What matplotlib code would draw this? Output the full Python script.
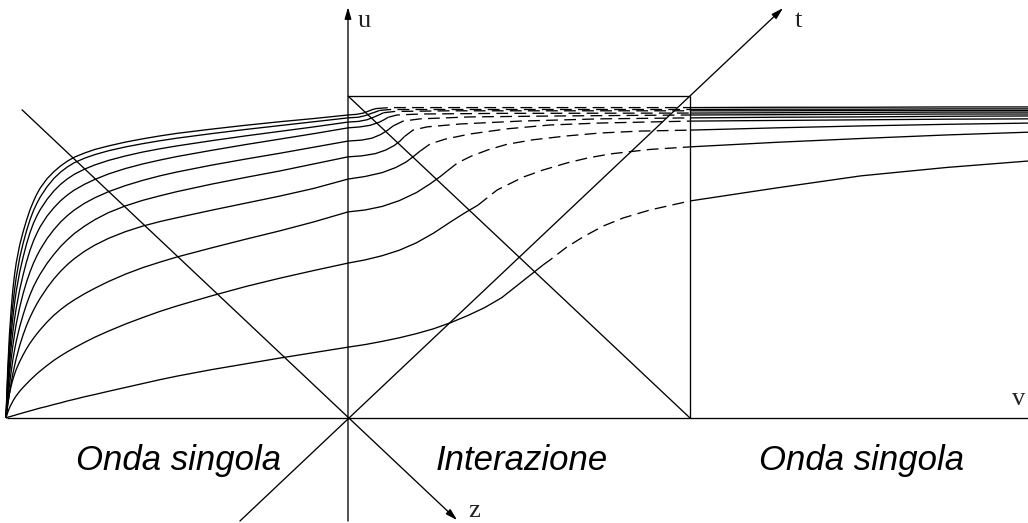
import matplotlib
matplotlib.use("Agg")
import matplotlib.pyplot as plt

plt.rcParams['lines.scale_dashes'] = False

# ---------------------------------------------------------------
# profiles u(v): left single wave, interaction zone, right wave
# ---------------------------------------------------------------
v_left = [-1.0, -0.995, -0.99, -0.985, -0.98, -0.975, -0.97, -0.96, -0.95, -0.94,
          -0.93, -0.92, -0.91, -0.9, -0.88, -0.86, -0.84, -0.82, -0.8, -0.77,
          -0.74, -0.7, -0.65, -0.6, -0.55, -0.5, -0.4, -0.3, -0.2, -0.1, 0.0]
u_left = [
    [0, .150, .258, .335, .398, .445, .482, .537, .578, .614, .646, .672, .695, .714, .743, .765,
     .783, .798, .810, .823, .834, .845, .857, .867, .876, .884, .897, .909, .920, .930, .941],
    [0, .130, .227, .295, .351, .398, .437, .497, .542, .581, .615, .643, .666, .686, .718, .744,
     .764, .780, .793, .807, .818, .830, .842, .852, .861, .869, .883, .896, .908, .920, .932],
    [0, .110, .196, .259, .311, .356, .394, .453, .499, .540, .575, .604, .627, .647, .679, .705,
     .726, .743, .757, .773, .786, .800, .814, .826, .836, .845, .861, .876, .890, .904, .919],
    [0, .090, .165, .220, .267, .307, .342, .398, .444, .485, .520, .549, .573, .594, .627, .653,
     .675, .693, .708, .726, .741, .758, .775, .789, .801, .812, .831, .849, .866, .883, .901],
    [0, .072, .134, .182, .224, .260, .292, .343, .386, .422, .453, .480, .503, .523, .557, .585,
     .609, .629, .646, .667, .684, .703, .722, .738, .752, .764, .785, .804, .822, .841, .860],
    [0, .054, .102, .143, .180, .211, .238, .283, .320, .353, .382, .407, .428, .447, .480, .508,
     .533, .554, .573, .596, .616, .638, .659, .676, .690, .703, .726, .747, .767, .789, .811],
    [0, .040, .076, .108, .137, .162, .185, .225, .258, .287, .312, .334, .354, .372, .404, .432,
     .456, .477, .495, .518, .537, .558, .579, .596, .610, .622, .645, .667, .689, .713, .742],
    [0, .042, .075, .099, .119, .136, .151, .175, .196, .215, .232, .247, .261, .274, .298, .319,
     .337, .353, .367, .386, .403, .424, .447, .467, .484, .500, .528, .555, .581, .609, .640],
    [0, .017, .031, .042, .052, .061, .069, .083, .095, .106, .117, .127, .137, .146, .163, .179,
     .193, .206, .218, .235, .251, .270, .292, .312, .331, .348, .379, .408, .434, .458, .481],
    [0, .002, .004, .005, .007, .008, .010, .013, .016, .019, .022, .025, .028, .031, .036, .042,
     .047, .053, .058, .066, .073, .083, .095, .107, .119, .130, .150, .168, .186, .203, .220],
]

# interaction zone, solid part (up to the crossing)
v_solid = [
    [0, 0.025, 0.045, 0.060, 0.072, 0.082],
    [0, 0.030, 0.050, 0.068, 0.082, 0.092],
    [0, 0.030, 0.055, 0.075, 0.090, 0.104],
    [0, 0.035, 0.065, 0.090, 0.105, 0.118],
    [0, 0.040, 0.070, 0.095, 0.115, 0.132],
    [0, 0.040, 0.080, 0.110, 0.135, 0.152, 0.165],
    [0, 0.050, 0.100, 0.140, 0.170, 0.190, 0.211],
    [0, 0.050, 0.100, 0.150, 0.200, 0.240, 0.270, 0.290],
    [0, 0.050, 0.100, 0.150, 0.200, 0.250, 0.300, 0.340, 0.380],
    [0, 0.050, 0.100, 0.150, 0.200, 0.250, 0.300, 0.350, 0.400, 0.450, 0.500, 0.550, 0.570],
]
u_solid = [
    [.941, .943, .947, .953, .958, .961],
    [.932, .934, .939, .946, .951, .955],
    [.919, .921, .926, .934, .941, .948],
    [.901, .904, .909, .918, .926, .934],
    [.860, .863, .869, .880, .893, .907],
    [.811, .814, .821, .832, .846, .860, .874],
    [.742, .750, .762, .778, .795, .811, .829],
    [.640, .646, .657, .675, .700, .727, .750, .767],
    [.481, .491, .504, .521, .544, .574, .609, .636, .661],
    [.220, .228, .238, .249, .262, .277, .296, .318, .343, .374, .416, .458, .475],
]

# interaction zone, dashed part
v_dash = [
    [0.082, 0.123, 0.298, 1.0],
    [0.092, 0.123, 0.298, 1.0],
    [0.104, 0.137, 0.298, 1.0],
    [0.118, 0.143, 0.211, 0.444, 1.0],
    [0.132, 0.161, 0.211, 0.357, 0.620, 1.0],
    [0.165, 0.190, 0.231, 0.327, 0.503, 0.737, 1.0],
    [0.211, 0.240, 0.284, 0.357, 0.465, 0.591, 0.737, 1.0],
    [0.290, 0.320, 0.360, 0.410, 0.465, 0.541, 0.640, 0.737, 0.854, 1.0],
    [0.380, 0.436, 0.512, 0.570, 0.640, 0.699, 0.766, 0.883, 1.0],
    [0.570, 0.591, 0.640, 0.687, 0.746, 0.804, 0.883, 1.0],
]
u_dash = [
    [.961, .964, .964, .964],
    [.955, .958, .958, .958],
    [.948, .952, .954, .954],
    [.934, .941, .944, .946, .947],
    [.907, .922, .929, .935, .938, .941],
    [.874, .894, .904, .913, .922, .929, .932],
    [.829, .851, .866, .882, .898, .910, .916, .922],
    [.767, .792, .813, .833, .850, .864, .876, .885, .891, .894],
    [.661, .708, .748, .770, .792, .807, .820, .834, .842],
    [.475, .491, .531, .562, .596, .621, .646, .674],
]

# right single wave
v_right = [1.0, 1.25, 1.5, 1.75, 2.0]
u_right = [
    [.964, .965, .965, .966, .966],
    [.958, .959, .959, .960, .960],
    [.954, .954, .955, .955, .955],
    [.947, .948, .949, .950, .950],
    [.941, .942, .943, .944, .944],
    [.932, .934, .935, .937, .938],
    [.922, .924, .926, .928, .929],
    [.894, .901, .907, .912, .916],
    [.842, .856, .868, .879, .888],
    [.674, .714, .752, .778, .799],
]

region_labels = ["Onda singola", "Interazione", "Onda singola"]
region_pos = [-0.494, 0.509, 1.503]

fig = plt.figure(figsize=(10.28, 5.23), dpi=100)
ax = fig.add_axes([0, 0, 1, 1])
ax.set_xlim(-1.0175, 1.9883)
ax.set_ylim(-0.3261, 1.2981)
ax.axis('off')

lw = 0.95
kw = dict(color='black', lw=lw, solid_capstyle='butt', solid_joinstyle='round')

for i in range(len(u_left)):
    ax.plot(v_left, u_left[i], **kw)
    ax.plot(v_solid[i], u_solid[i], **kw)
    ax.plot(v_dash[i], u_dash[i], color='black', lw=lw, dashes=(8.5, 4.5))
    ax.plot(v_right, u_right[i], **kw)

# axes and frame of the interaction zone
ax.plot([-0.997, 2.0], [0, 0], **kw)
ax.plot([0, 1], [1, 1], **kw)
ax.plot([1, 1], [0, 1], **kw)
ax.plot([0, 1], [1, 0], **kw)

arrow = dict(arrowstyle='-|>,head_length=0.7,head_width=0.2',
             color='black', lw=lw, shrinkA=0, shrinkB=0)
ax.annotate('', xy=(0, 1.276), xytext=(0, -0.32), arrowprops=arrow)
ax.annotate('', xy=(1.272, 1.273), xytext=(-0.316, -0.32), arrowprops=arrow)
ax.annotate('', xy=(0.319, -0.317), xytext=(-0.953, 0.957), arrowprops=arrow)

mono = dict(family='Liberation Serif', fontsize=19, ha='left', va='baseline',
            color='#222222')
ax.text(0.029, 1.214, 'u', **mono)
ax.text(1.307, 1.214, 't', **mono)
ax.text(1.942, 0.040, 'v', **mono)
ax.text(0.351, -0.307, 'z', **mono)

for x, s in zip(region_pos, region_labels):
    ax.text(x, -0.161, s, family='Liberation Sans', style='italic',
            fontsize=25, ha='center', va='baseline')

fig.savefig('out.png', dpi=100)
